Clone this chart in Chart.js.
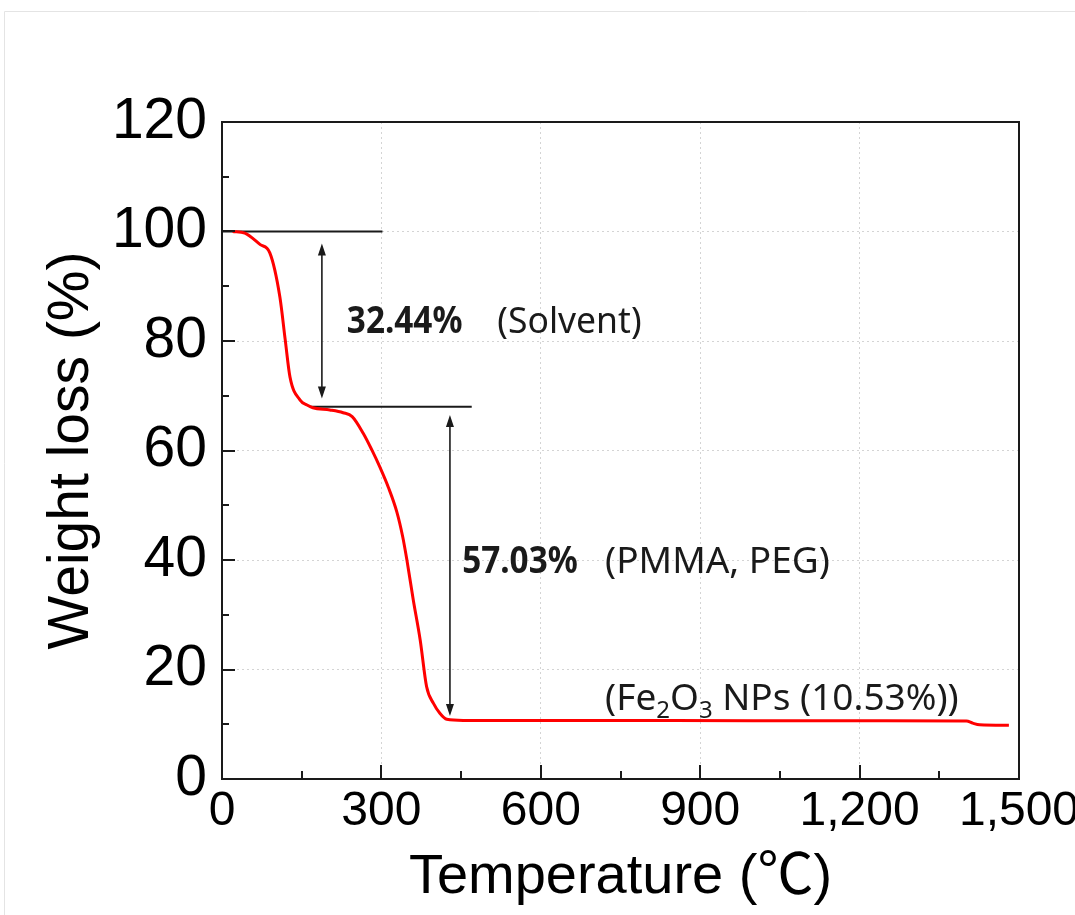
<!DOCTYPE html>
<html>
<head>
<meta charset="utf-8">
<script src="https://cdn.jsdelivr.net/npm/chart.js@4.4.1/dist/chart.umd.min.js"></script>
<style>
  html, body { margin: 0; padding: 0; background: #ffffff; }
  #wrap { width: 1075px; height: 915px; }
</style>
</head>
<body>
<div id="wrap"><canvas id="c" width="1075" height="915"></canvas></div>
<script>
// ---------------- data ----------------
const temperature = [20, 43, 72, 90, 109, 119, 128, 147, 160, 171, 203, 228, 245, 266, 282, 297, 313, 329, 340, 348, 360, 373, 385, 398, 410, 423, 454, 700, 1000, 1200, 1401, 1413, 1426, 1481];
const weightLoss  = [100, 99.7, 97.6, 96.1, 88, 80.2, 73.4, 69.2, 68.3, 67.8, 67.4, 66.9, 66.2, 63.1, 60.1, 57.0, 53.3, 48.8, 44.3, 40.0, 32.7, 25.4, 16.9, 13.8, 12.0, 10.9, 10.7, 10.7, 10.65, 10.65, 10.6, 10.2, 9.9, 9.8];

const xTickValues = [0, 300, 600, 900, 1200, 1500];
const xMinorTicks = [150, 450, 750, 1050, 1350];
const yTickValues = [0, 20, 40, 60, 80, 100, 120];
const yMinorTicks = [10, 30, 50, 70, 90, 110];

// reference (step) lines
const step1X = [0, 302];
const step1Y = [100, 100];
const step2X = [166, 470];
const step2Y = [68, 68];

// double-headed arrows: [temperature, upper weight, lower weight]
const arrowT     = [188, 429];
const arrowTop   = [97.8, 66.5];
const arrowBot   = [69.5, 11.5];

// annotation texts and their anchors (temperature, weight at baseline)
const noteSolventPct  = "32.44%";
const noteSolvent     = "(Solvent)";
const notePolymerPct  = "57.03%";
const notePolymer     = "(PMMA, PEG)";
const noteOxideParts  = ["(Fe", "2", "O", "3", " NPs (10.53%))"];
const noteT = { solventPct: 235, solvent: 518, polymerPct: 452, polymer: 721, oxide: 721 };
const noteW = { solvent: 81.5, polymer: 37.6, oxide: 12.6 };

// ---------------- fonts ----------------
const SANS = "'Liberation Sans', Arial, sans-serif";
const CJKFALL = ", 'Noto Sans CJK KR', 'DejaVu Sans', sans-serif";
const NOTE = "'Noto Sans', 'Open Sans', sans-serif";

const curveData = temperature.map((t, i) => ({ x: t, y: weightLoss[i] }));
const step1Data = step1X.map((t, i) => ({ x: t, y: step1Y[i] }));
const step2Data = step2X.map((t, i) => ({ x: t, y: step2Y[i] }));

const INK = '#1a1a1a';

const decorPlugin = {
  id: 'decor',
  beforeDraw(chart) {
    const ctx = chart.ctx;
    ctx.save();
    ctx.fillStyle = '#ffffff';
    ctx.fillRect(0, 0, chart.width, chart.height);
    ctx.strokeStyle = '#e4e4e4';
    ctx.lineWidth = 1;
    ctx.beginPath();
    ctx.moveTo(4.5, chart.height);
    ctx.lineTo(4.5, 11.5);
    ctx.lineTo(chart.width, 11.5);
    ctx.stroke();
    ctx.restore();
  },
  afterDraw(chart) {
    const ctx = chart.ctx;
    const xs = chart.scales.x, ys = chart.scales.y;
    const a = chart.chartArea;
    ctx.save();
    // frame
    ctx.strokeStyle = INK;
    ctx.lineWidth = 2;
    ctx.strokeRect(a.left, a.top, a.right - a.left, a.bottom - a.top);
    // inward ticks
    ctx.beginPath();
    xTickValues.forEach(v => { const p = Math.round(xs.getPixelForValue(v)); ctx.moveTo(p, a.bottom); ctx.lineTo(p, a.bottom - 14); });
    xMinorTicks.forEach(v => { const p = Math.round(xs.getPixelForValue(v)); ctx.moveTo(p, a.bottom); ctx.lineTo(p, a.bottom - 8); });
    yTickValues.forEach(v => { const p = Math.round(ys.getPixelForValue(v)); ctx.moveTo(a.left, p); ctx.lineTo(a.left + 13, p); });
    yMinorTicks.forEach(v => { const p = Math.round(ys.getPixelForValue(v)); ctx.moveTo(a.left, p); ctx.lineTo(a.left + 7, p); });
    ctx.stroke();

    // arrows
    ctx.lineWidth = 1.6;
    ctx.fillStyle = INK;
    arrowT.forEach((t, i) => {
      const x = xs.getPixelForValue(t);
      const y1 = ys.getPixelForValue(arrowTop[i]);
      const y2 = ys.getPixelForValue(arrowBot[i]);
      ctx.beginPath();
      ctx.moveTo(x, y1 + 8); ctx.lineTo(x, y2 - 8); ctx.stroke();
      ctx.beginPath();
      ctx.moveTo(x, y1); ctx.lineTo(x - 4, y1 + 12); ctx.lineTo(x + 4, y1 + 12); ctx.closePath(); ctx.fill();
      ctx.beginPath();
      ctx.moveTo(x, y2); ctx.lineTo(x - 4, y2 - 12); ctx.lineTo(x + 4, y2 - 12); ctx.closePath(); ctx.fill();
    });

    // annotation texts
    ctx.fillStyle = INK;
    ctx.textBaseline = 'alphabetic';
    ctx.textAlign = 'left';
    function txt(s, t, w, font, sx) {
      const x = xs.getPixelForValue(t), y = ys.getPixelForValue(w);
      ctx.save();
      ctx.translate(x, y);
      ctx.scale(sx, 1);
      ctx.font = font;
      ctx.fillText(s, 0, 0);
      ctx.restore();
    }
    const bold = "bold 37px " + NOTE;
    const reg = "37px " + NOTE;
    txt(noteSolventPct, noteT.solventPct, noteW.solvent, bold, 0.9);
    txt(noteSolvent, noteT.solvent, noteW.solvent, reg, 0.96);
    txt(notePolymerPct, noteT.polymerPct, noteW.polymer, bold, 0.9);
    txt(notePolymer, noteT.polymer, noteW.polymer, reg, 1.0);
    // Fe2O3 with subscripts
    let x = xs.getPixelForValue(noteT.oxide);
    const y = ys.getPixelForValue(noteW.oxide);
    noteOxideParts.forEach((part, i) => {
      const sub = (i === 1 || i === 3);
      ctx.font = sub ? "24px " + NOTE : reg;
      ctx.fillText(part, x, sub ? y + 8 : y);
      x += ctx.measureText(part).width;
    });
    ctx.restore();
  }
};

const chart = new Chart(document.getElementById('c'), {
  type: 'line',
  data: {
    datasets: [
      { label: 'TGA', data: curveData, borderColor: '#ff0000', borderWidth: 3, pointRadius: 0, cubicInterpolationMode: 'monotone', fill: false },
      { label: 'step1', data: step1Data, borderColor: INK, borderWidth: 2, pointRadius: 0, fill: false },
      { label: 'step2', data: step2Data, borderColor: INK, borderWidth: 2, pointRadius: 0, fill: false }
    ]
  },
  options: {
    responsive: false,
    animation: false,
    devicePixelRatio: 1,
    layout: { padding: { left: 0, right: 56, top: 122, bottom: 0 } },
    plugins: { legend: { display: false }, tooltip: { enabled: false } },
    scales: {
      x: {
        type: 'linear', min: 0, max: 1500,
        afterBuildTicks: s => { s.ticks = xTickValues.map(v => ({ value: v })); },
        afterFit: s => { s.height = 136; s.paddingLeft = 0; s.paddingRight = 0; },
        grid: { color: '#d4d4d4', lineWidth: 1, drawTicks: false },
        border: { display: false, dash: [2, 3] },
        ticks: {
          padding: 4, color: '#000',
          font: { family: SANS, size: 48 },
          maxRotation: 0, autoSkip: false,
          callback: v => v.toLocaleString('en-US')
        },
        title: {
          display: true, text: 'Temperature (\u2103)', color: '#000',
          font: { family: SANS + CJKFALL, size: 56, lineHeight: 1 },
          padding: { top: 0, bottom: 9 }
        }
      },
      y: {
        type: 'linear', min: 0, max: 120,
        afterBuildTicks: s => { s.ticks = yTickValues.map(v => ({ value: v })); },
        afterFit: s => { s.width = 222; s.paddingTop = 0; s.paddingBottom = 0; },
        grid: { color: '#d4d4d4', lineWidth: 1, drawTicks: false },
        border: { display: false, dash: [2, 3] },
        ticks: {
          padding: 15, color: '#000',
          font: { family: SANS, size: 57 }
        },
        title: {
          display: true, text: 'Weight loss (%)', color: '#000',
          font: { family: SANS, size: 57, lineHeight: 1 },
          padding: { top: 44, bottom: 0 }
        }
      }
    }
  },
  plugins: [decorPlugin]
});
</script>
</body>
</html>
